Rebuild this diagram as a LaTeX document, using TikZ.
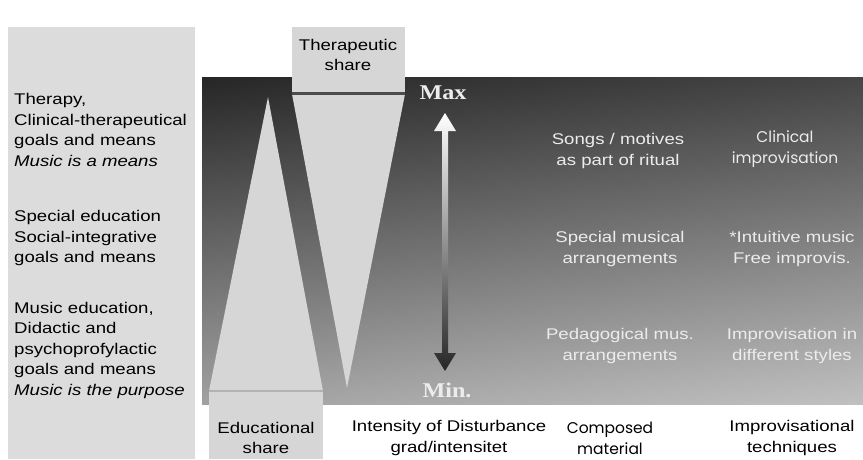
\documentclass[tikz,border=0pt]{standalone}
\usepackage{fontspec}
\setmainfont{Liberation Sans}[FakeStretch=1.2]
\newfontfamily\geofont{Poppins}
\newfontfamily\markfont{Liberation Serif}[FakeStretch=1.15]
\usetikzlibrary{calc}

\definecolor{panelgray}{HTML}{DCDCDC}
\definecolor{sharegray}{HTML}{D6D6D6}
\definecolor{darktop}{HTML}{2C2C2C}
\definecolor{darkbot}{HTML}{B8B8B8}
\definecolor{softwhite}{HTML}{ECECEC}

\tikzset{
  txt/.style={font=\fontsize{15.5}{20.5}\selectfont, align=center, inner sep=0pt},
  goaltxt/.style={txt, align=left, anchor=west},
  inner/.style={txt, text=softwhite},
  geotxt/.style={txt, font=\geofont\fontsize{15.5}{21}\selectfont},
  limit/.style={font=\markfont\bfseries\fontsize{21}{24}\selectfont, text=softwhite, inner sep=0pt}
}

\begin{document}
\begin{tikzpicture}[x=1pt,y=-1pt]
\fill[white] (0,0) rectangle (863,459);
\useasboundingbox (0,0) rectangle (863,459);

% column with the goals
\fill[panelgray] (8,27) rectangle (195,459);
\node[goaltxt] (therapy) at (14,130) {Therapy,\\Clinical-therapeutical\\goals and means\\\textit{Music is a means}};
\node[goaltxt] (specedu) at (14,238) {Special education\\Social-integrative\\goals and means};
\node[goaltxt] (musedu) at (14,350) {Music education,\\Didactic and\\psychoprofylactic\\goals and means\\\textit{Music is the purpose}};

% field from Max down to Min
\shade[top color=darktop, bottom color=darkbot] (202,77) rectangle (863,404);
\shade[left color=black, right color=white, opacity=0.12] (202,77) rectangle (863,404);

% educational share
\fill[sharegray] (268,97) -- (323,391) -- (209,391) -- cycle;
\fill[sharegray] (209,391) rectangle (323,459);
\draw[line width=2pt, black!30] (209,391) -- (323,391);
\node[txt] (edushare) at (266,438) {Educational\\share};

% therapeutic share
\fill[sharegray] (292,27) rectangle (405,94);
\fill[sharegray] (292,94) -- (405,94) -- (347,388) -- cycle;
\draw[line width=3pt, black!70] (292,93) -- (405,93);
\node[txt] (thershare) at (348,55) {Therapeutic\\share};

% intensity arrow
\node[limit] (maxl) at (443,93) {Max};
\node[limit] (minl) at (447,390) {Min.};
\coordinate (uptip) at ($(maxl)+(2,20)$);
\coordinate (dntip) at ($(minl)+(-2,-19)$);
\shade[top color=white, bottom color=black!85] (uptip) -- ++(11,18) -- ++(-8,0)
  -- ($(dntip)+(3,-18)$) -- ++(8,0) -- (dntip) -- ++(-11,-18) -- ++(8,0)
  -- ($(uptip)+(-3,18)$) -- ++(-8,0) -- cycle;

% music in the field
\node[inner] (songs) at (618,151) {Songs / motives\\as part of ritual};
\node[geotxt, text=softwhite] (clinimpro) at (785,149) {Clinical\\improvisation};
\node[inner] (special) at (620,249) {Special musical\\arrangements};
\node[inner] (intuitive) at (792,249) {*Intuitive music\\Free improvis.};
\node[inner] (pedagog) at (620,346) {Pedagogical mus.\\arrangements};
\node[inner] (impstyles) at (792,346) {Improvisation in\\different styles};

% captions under the field
\node[txt] (intensity) at (449,438) {Intensity of Disturbance\\grad/intensitet};
\node[geotxt] (composed) at (610,438) {Composed\\material};
\node[txt] (improtech) at (792,438) {Improvisational\\techniques};
\end{tikzpicture}
\end{document}
